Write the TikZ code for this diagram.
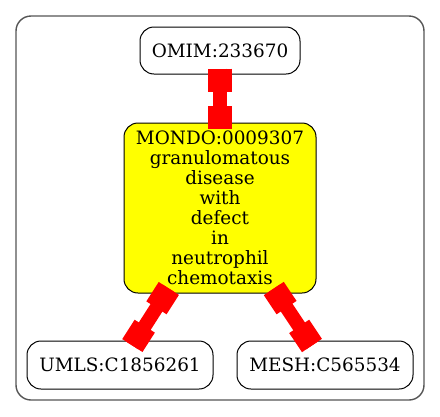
\documentclass[tikz,border=0pt]{standalone}
\usepackage{fontspec}
\setmainfont{DejaVu Serif}
\usetikzlibrary{calc}
\definecolor{edgered}{RGB}{255,0,0}
\definecolor{clustergray}{RGB}{85,85,85}
\definecolor{mondoyellow}{RGB}{255,255,0}
\tikzset{
  labelfont/.style={font=\fontsize{18.4}{20}\selectfont},
  termbox/.style={draw=black, line width=1pt, rounded corners=14pt, inner sep=0pt, align=center, labelfont},
  mondobox/.style={termbox, fill=mondoyellow},
  clusterbox/.style={draw=clustergray, line width=1.4pt, rounded corners=15pt},
  edgeline/.style={draw=edgered, line width=14pt},
  edgebox/.style={draw=edgered, line width=24pt},
}
\newcommand{\boxedge}[2]{%
  \path (#1) -- coordinate[pos=0] (#1#2s) coordinate[pos=1] (#1#2e) (#2);
  \coordinate (#1#2a) at ($(#1#2s)!-6pt!(#1#2e)$);
  \coordinate (#1#2b) at ($(#1#2e)!-6pt!(#1#2s)$);
  \draw[edgeline] (#1#2a) -- (#1#2b);
  \draw[edgebox] (#1#2a) -- ($(#1#2a)!23pt!(#1#2b)$);
  \draw[edgebox] (#1#2b) -- ($(#1#2b)!23pt!(#1#2a)$);
}
\begin{document}
\begin{tikzpicture}[x=1pt,y=-1pt]
\useasboundingbox (0,0) rectangle (440,416);
\draw[clusterbox] (16,16) rectangle (424,400);
\node[termbox, minimum width=160pt, minimum height=47pt] (omim) at (220,50.5) {OMIM:233670};
\node[mondobox, minimum width=192pt, minimum height=170pt] (mondo) at (220,208)
  {MONDO:0009307\\granulomatous\\disease\\with\\defect\\in\\neutrophil\\chemotaxis};
\node[termbox, minimum width=186pt, minimum height=48pt] (umls) at (120,365) {UMLS:C1856261};
\node[termbox, minimum width=176pt, minimum height=48pt] (mesh) at (325,365) {MESH:C565534};
\boxedge{omim}{mondo}
\boxedge{mondo}{umls}
\boxedge{mondo}{mesh}
\end{tikzpicture}
\end{document}
